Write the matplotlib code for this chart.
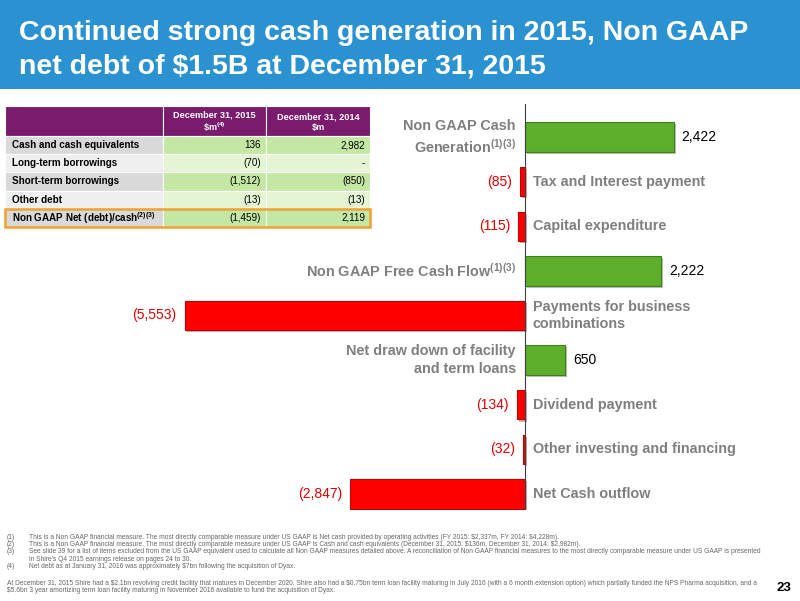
import matplotlib
matplotlib.use('Agg')
import matplotlib.pyplot as plt
import matplotlib.patheffects as pe
from matplotlib.patches import Rectangle

plt.rcParams['mathtext.default'] = 'regular'
SANS = ['Liberation Sans', 'DejaVu Sans']

# ---- chart data ----
categories = [
    'Non GAAP Cash\nGeneration$^{(1)(3)}$',
    'Tax and Interest payment',
    'Capital expenditure',
    'Non GAAP Free Cash Flow$^{(1)(3)}$',
    'Payments for business\ncombinations',
    'Net draw down of facility\nand term loans',
    'Dividend payment',
    'Other investing and financing',
    'Net Cash outflow',
]
values = [2422, -85, -115, 2222, -5553, 650, -134, -32, -2847]

# ---- table data ----
table_rows = ['Cash and cash equivalents', 'Long-term borrowings', 'Short-term borrowings',
              'Other debt', 'Non GAAP Net (debt)/cash$^{(2)(3)}$']
col_2015 = ['136', '(70)', '(1,512)', '(13)', '(1,459)']
col_2014 = ['2,982', '-', '(850)', '(13)', '2,119']
col_headers = ['December 31, 2015\n\\$m$^{(4)}$', 'December 31, 2014\n\\$m']

# footnote lines: (number, text); continuation lines have an empty number
footnote_lines = [
    ('(1)', 'This is a Non GAAP financial measure. The most directly comparable measure under US GAAP is Net cash provided by operating activities (FY 2015: $2,337m, FY 2014: $4,228m).'),
    ('(2)', 'This is a Non GAAP financial measure. The most directly comparable measure under US GAAP is Cash and cash equivalents (December 31, 2015: $136m, December 31, 2014: $2,982m).'),
    ('(3)', 'See slide 39 for a list of items excluded from the US GAAP equivalent used to calculate all Non GAAP measures detailed above. A reconciliation of Non GAAP financial measures to the most directly comparable measure under US GAAP is presented'),
    ('', "in Shire's Q4 2015 earnings release on pages 24 to 30."),
    ('(4)', 'Net debt as at January 31, 2016 was approximately $7bn following the acquisition of Dyax.'),
]
bottom_note = [
    'At December 31, 2015 Shire had a $2.1bn revolving credit facility that matures in December 2020. Shire also had a $0.75bn term loan facility maturing in July 2016 (with a 6 month extension option) which partially funded the NPS Pharma acquisition, and a',
    '$5.6bn 3 year amortizing term loan facility maturing in November 2016 available to fund the acquisition of Dyax.',
]

W, H = 800, 601
fig = plt.figure(figsize=(8, 6.01), dpi=100)
fig.patch.set_facecolor('white')


def fx(x):
    return x / W


def fy(y):
    return 1 - y / H


def esc(s):
    return s.replace('$', r'\$')


# title band
fig.patches.append(Rectangle((0, fy(89)), 1, 89 / H, transform=fig.transFigure,
                             facecolor='#2A92D0', edgecolor='none', zorder=0))
fig.text(fx(19), fy(33), 'Continued strong cash generation in 2015, Non GAAP',
         color='white', fontsize=20.5, fontweight='bold', family=SANS, va='center', ha='left')
fig.text(fx(19), fy(67), esc('net debt of $1.5B at December 31, 2015'),
         color='white', fontsize=20.5, fontweight='bold', family=SANS, va='center', ha='left')

# ---- bar chart ----
ax = fig.add_axes([fx(180), fy(510), fx(500), 406 / H])
ax.set_xlim(-5628, 2528)
ax.set_ylim(8.36, -0.74)
ax.axis('off')
ax.axvline(0, color='#404040', lw=0.8, zorder=3)

shadow = [pe.SimplePatchShadow(offset=(1.5, -1.5), alpha=0.3), pe.Normal()]
for y, (v, cat) in enumerate(zip(values, categories)):
    pos = v > 0
    fc = '#5DAE2B' if pos else '#FF0000'
    ec = '#3F7F1E' if pos else '#C00000'
    bars = ax.barh(y, v, height=0.66, color=fc, edgecolor=ec, linewidth=0.8, zorder=2)
    for b in bars:
        b.set_path_effects(shadow)
    lbl = f'{abs(v):,}' if pos else f'({abs(v):,})'
    off = 130
    if pos:
        ax.text(v + off, y, lbl, ha='left', va='center', fontsize=10, color='black', family=SANS)
        ax.text(-150, y, cat, ha='right', va='center', fontsize=10.4, fontweight='bold',
                color='#7F7F7F', family=SANS, linespacing=1.3)
    else:
        ax.text(v - off, y, lbl, ha='right', va='center', fontsize=10, color='#E00000', family=SANS)
        ax.text(130, y, cat, ha='left', va='center', fontsize=10.4, fontweight='bold',
                color='#7F7F7F', family=SANS, linespacing=1.3)

# ---- table ----
col_x = [5, 163, 266, 370]
header_top, header_bot = 106, 136
row_h = 18.2
label_fill = ['#D9D9D9', '#EFEFEF']
value_fill = ['#C4E8A4', '#E3F5D3']


def frect(x0, y0, x1, y1, **kw):
    fig.patches.append(Rectangle((fx(x0), fy(y1)), fx(x1 - x0), (y1 - y0) / H,
                                 transform=fig.transFigure, **kw))


for i in range(3):
    frect(col_x[i], header_top, col_x[i + 1], header_bot, facecolor='#7A1B6D', edgecolor='white', lw=0.8)
for j, hdr in enumerate(col_headers):
    fig.text(fx((col_x[j + 1] + col_x[j + 2]) / 2), fy((header_top + header_bot) / 2 + 1),
             hdr, ha='center', va='center', fontsize=6.6, fontweight='bold',
             color='white', family=SANS, linespacing=1.15)

for r, name in enumerate(table_rows):
    y0 = header_bot + r * row_h
    y1 = y0 + row_h
    k = r % 2
    frect(col_x[0], y0, col_x[1], y1, facecolor=label_fill[k], edgecolor='white', lw=0.8)
    frect(col_x[1], y0, col_x[2], y1, facecolor=value_fill[k], edgecolor='white', lw=0.8)
    frect(col_x[2], y0, col_x[3], y1, facecolor=value_fill[k], edgecolor='white', lw=0.8)
    yc = fy((y0 + y1) / 2)
    fig.text(fx(col_x[0] + 7), yc, name, ha='left', va='center', fontsize=7.1, fontweight='bold',
             color='black', family=SANS)
    fig.text(fx(col_x[2] - 5), yc, col_2015[r], ha='right', va='center', fontsize=7.1,
             color='black', family=SANS)
    fig.text(fx(col_x[3] - 5), yc, col_2014[r], ha='right', va='center', fontsize=7.1,
             color='black', family=SANS)

last_top = header_bot + 4 * row_h
frect(col_x[0], last_top, col_x[3], last_top + row_h, facecolor='none', edgecolor='#F0A030', lw=1.8)

# ---- footnotes ----
for i, (num, txt) in enumerate(footnote_lines):
    yy = fy(539 + i * 7.2)
    if num:
        fig.text(fx(7), yy, num, ha='left', va='baseline', fontsize=4.8, color='#666666', family=SANS)
    fig.text(fx(29), yy, esc(txt), ha='left', va='baseline', fontsize=4.8, color='#666666', family=SANS)
for i, line in enumerate(bottom_note):
    fig.text(fx(7), fy(585 + i * 7.2), esc(line), ha='left', va='baseline', fontsize=4.8,
             color='#666666', family=SANS)
fig.text(fx(791), fy(588), '23', ha='right', va='center', fontsize=9.5, fontweight='bold',
         color='black', family=SANS)

fig.savefig('out.png', dpi=100)
